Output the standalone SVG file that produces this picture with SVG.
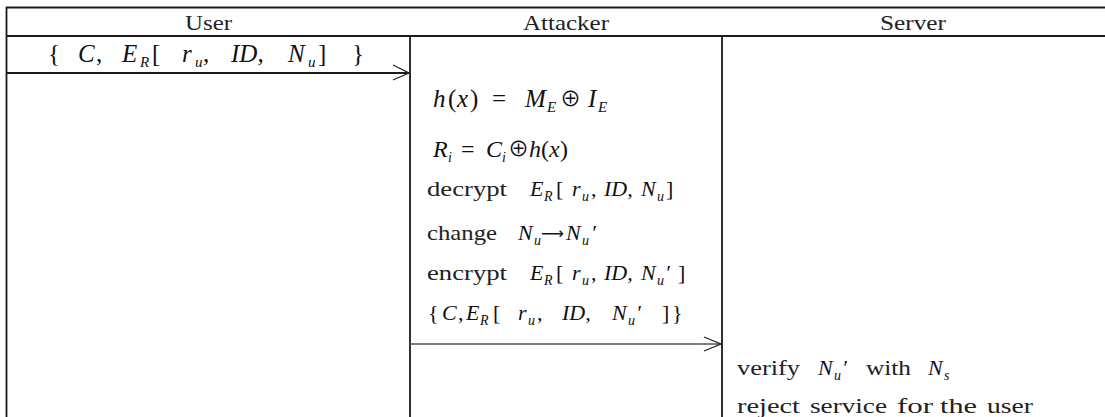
<svg xmlns="http://www.w3.org/2000/svg" width="1105" height="417" viewBox="0 0 1105 417">
<style>
.bg{fill:#fff}
.ln{stroke:#1a1a1a;stroke-width:1.8;fill:none}
.ar{stroke:#555;stroke-width:1.6;fill:none}
.hd{stroke:#222;stroke-width:1.3;fill:none}
.t{font-family:"Liberation Serif","DejaVu Serif",serif;font-size:22px;fill:#222}
.m{font-family:"Liberation Serif","DejaVu Serif",serif;font-style:italic;font-size:22px;fill:#111}
.u{font-style:normal}
.o{font-family:"Noto Sans CJK KR","DejaVu Sans",sans-serif;font-style:normal;font-size:21px}
.sb{font-size:14px}
.sb2{font-size:15px}
.big{font-size:25px}
.mid{font-size:24px}
.arw{font-family:"DejaVu Sans",sans-serif;font-style:normal;font-size:16px}
</style>
<rect class="bg" x="0" y="0" width="1105" height="417"/>
<g id="table">
<line class="ln" x1="6" y1="7.5" x2="1105" y2="7.5"/>
<line class="ln" x1="6" y1="36" x2="1105" y2="36"/>
<line class="ln" x1="6.5" y1="7" x2="6.5" y2="417"/>
<line class="ln" x1="410" y1="36" x2="410" y2="417"/>
<line class="ln" x1="722" y1="36" x2="722" y2="417"/>
</g>
<g id="header">
<text class="t" x="185" y="30" textLength="47" lengthAdjust="spacingAndGlyphs">User</text>
<text class="t" x="523" y="30" textLength="86" lengthAdjust="spacingAndGlyphs">Attacker</text>
<text class="t" x="880" y="30" textLength="66" lengthAdjust="spacingAndGlyphs">Server</text>
</g>
<g id="connectors">
<line class="ln" x1="6" y1="73" x2="409" y2="73"/>
<path class="hd" d="M393,65 L409,73 L393,80"/>
<line class="ar" x1="410" y1="344" x2="721" y2="344"/>
<path class="hd" d="M704,337 L721,344 L704,351"/>
</g>
<g id="user">
<text class="m big"><tspan class="u" x="48" y="62">{</tspan><tspan x="78" y="62">C</tspan><tspan class="u" x="96" y="62">,</tspan><tspan x="122" y="62">E</tspan><tspan class="sb2" x="140" y="67">R</tspan><tspan class="u" x="152" y="62">[</tspan><tspan x="182" y="62">r</tspan><tspan class="sb2" x="195" y="67">u</tspan><tspan class="u" x="203" y="62">,</tspan><tspan x="231" y="62">ID,</tspan><tspan x="288" y="62">N</tspan><tspan class="sb2" x="308" y="67">u</tspan><tspan class="u" x="318" y="62">]</tspan><tspan class="u" x="352" y="62">}</tspan></text>
</g>
<g id="attacker">
<text class="m big"><tspan x="433" y="107">h</tspan><tspan class="u" x="448" y="107">(</tspan><tspan x="457" y="107">x</tspan><tspan class="u" x="470" y="107">)</tspan><tspan class="u" x="492" y="107">=</tspan><tspan x="525" y="107">M</tspan><tspan class="sb2" x="547" y="112">E</tspan><tspan class="o" x="560" y="106">⊕</tspan><tspan x="588" y="107">I</tspan><tspan class="sb2" x="598" y="112">E</tspan></text>
<text class="m mid"><tspan x="433" y="157">R</tspan><tspan class="sb" x="448" y="162">i</tspan><tspan class="u" x="461" y="157">=</tspan><tspan x="486" y="157">C</tspan><tspan class="sb" x="502" y="162">i</tspan><tspan class="o" x="508" y="156">⊕</tspan><tspan x="529" y="157">h</tspan><tspan class="u" x="541" y="157">(</tspan><tspan x="549" y="157">x</tspan><tspan class="u" x="560" y="157">)</tspan></text>
<text class="t" x="427" y="196" textLength="80" lengthAdjust="spacingAndGlyphs">decrypt</text>
<text class="m"><tspan x="530" y="196">E</tspan><tspan class="sb" x="544" y="201">R</tspan><tspan class="u" x="556" y="196">[</tspan><tspan x="572" y="196">r</tspan><tspan class="sb" x="582" y="201">u</tspan><tspan class="u" x="591" y="196">,</tspan><tspan x="604" y="196">ID,</tspan><tspan x="641" y="196">N</tspan><tspan class="sb" x="657" y="201">u</tspan><tspan class="u" x="666" y="196">]</tspan></text>
<text class="t" x="427" y="240" textLength="70" lengthAdjust="spacingAndGlyphs">change</text>
<text class="m"><tspan x="518" y="240">N</tspan><tspan class="sb" x="534" y="245">u</tspan><tspan class="arw" x="541" y="239">⟶</tspan><tspan x="566" y="240">N</tspan><tspan class="sb" x="582" y="245">u</tspan><tspan x="591" y="240">′</tspan></text>
<text class="t" x="427" y="280" textLength="80" lengthAdjust="spacingAndGlyphs">encrypt</text>
<text class="m"><tspan x="530" y="280">E</tspan><tspan class="sb" x="544" y="285">R</tspan><tspan class="u" x="556" y="280">[</tspan><tspan x="572" y="280">r</tspan><tspan class="sb" x="582" y="285">u</tspan><tspan class="u" x="591" y="280">,</tspan><tspan x="604" y="280">ID,</tspan><tspan x="641" y="280">N</tspan><tspan class="sb" x="657" y="285">u</tspan><tspan x="665" y="280">′</tspan><tspan class="u" x="678" y="280">]</tspan></text>
<text class="m"><tspan class="u" x="428" y="320">{</tspan><tspan x="442" y="320">C</tspan><tspan class="u" x="458" y="320">,</tspan><tspan x="466" y="320">E</tspan><tspan class="sb" x="480" y="325">R</tspan><tspan class="u" x="493" y="320">[</tspan><tspan x="518" y="320">r</tspan><tspan class="sb" x="528" y="325">u</tspan><tspan class="u" x="537" y="320">,</tspan><tspan x="562" y="320">ID,</tspan><tspan x="612" y="320">N</tspan><tspan class="sb" x="628" y="325">u</tspan><tspan x="636" y="320">′</tspan><tspan class="u" x="662" y="320">]</tspan><tspan class="u" x="672" y="320">}</tspan></text>
</g>
<g id="server">
<text class="t" x="737" y="375" textLength="63" lengthAdjust="spacingAndGlyphs">verify</text>
<text class="m"><tspan x="818" y="375">N</tspan><tspan class="sb" x="834" y="380">u</tspan><tspan x="842" y="375">′</tspan></text>
<text class="t" x="866" y="375" textLength="45" lengthAdjust="spacingAndGlyphs">with</text>
<text class="m"><tspan x="928" y="375">N</tspan><tspan class="sb" x="944" y="380">s</tspan></text>
<text class="t" x="737" y="413" textLength="63" lengthAdjust="spacingAndGlyphs">reject</text>
<text class="t" x="810" y="413" textLength="77" lengthAdjust="spacingAndGlyphs">service</text>
<text class="t" x="897" y="413" textLength="36" lengthAdjust="spacingAndGlyphs">for</text>
<text class="t" x="940" y="413" textLength="37" lengthAdjust="spacingAndGlyphs">the</text>
<text class="t" x="987" y="413" textLength="46" lengthAdjust="spacingAndGlyphs">user</text>
</g>
</svg>
